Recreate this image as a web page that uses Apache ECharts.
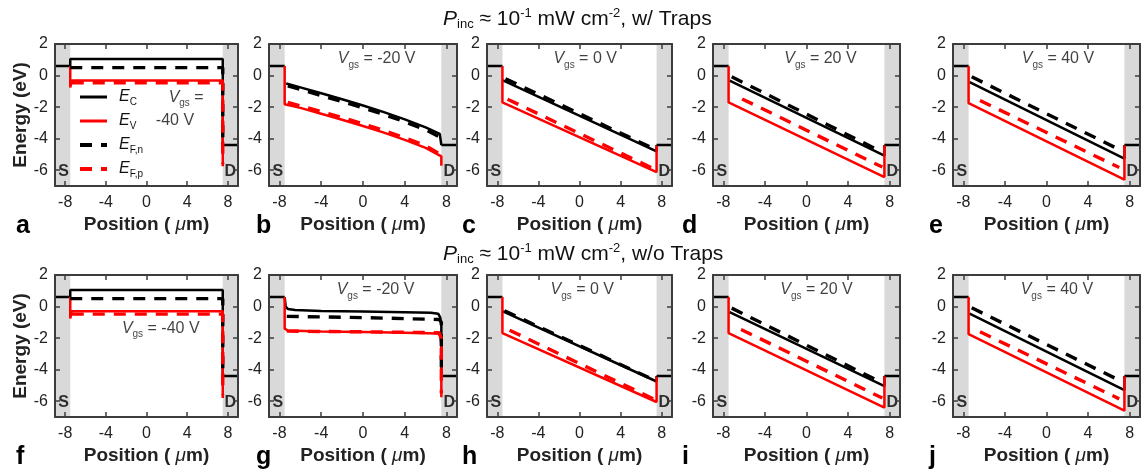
<!DOCTYPE html>
<html>
<head>
<meta charset="utf-8">
<script src="https://cdn.jsdelivr.net/npm/echarts@6/dist/echarts.min.js"></script>
<style>
  html, body { margin: 0; padding: 0; background: #ffffff; }
  #chart { width: 1143px; height: 475px; }
</style>
</head>
<body>
<div id="chart"></div>
<script>
// ---- axes -------------------------------------------------------------
const xRange = [-9, 9];
const yRange = [-7, 2];
const xTicks = [-8, -4, 0, 4, 8];
const yTicks = [-6, -4, -2, 0, 2];

// ---- contacts (µm / eV) ----------------------------------------------
const channelEdges = [-7.5, 7.5];
const sourceLevel = 0.6;
const drainLevel = -4.4;

// ---- panel captions ----------------------------------------------------
const panelLetters = ['a', 'b', 'c', 'd', 'e', 'f', 'g', 'h', 'i', 'j'];
const gateVoltages = ['-40', '-20', '0', '20', '40', '-40', '-20', '0', '20', '40'];
const rowTitles = ['w/ Traps', 'w/o Traps'];
const legendKeys = ['Ec', 'Ev', 'EFn', 'EFp'];
const legendSubs = ['C', 'V', 'F,n', 'F,p'];

// ---- band profiles, with traps ([position µm, energy eV]) -------------
const ecA  = [[-7.5, 0.6], [-7.5, 1.05], [7.5, 1.05], [7.5, -4.4]];
const evA  = [[-7.5, 0.6], [-7.5, -0.75], [-7.35, -0.32], [7.5, -0.32], [7.5, -5.75]];
const efnA = [[-7.5, 0.5], [7.5, 0.5], [7.5, -4.4]];
const efpA = [[-7.35, -0.46], [7.5, -0.46], [7.5, -5.6]];

const ecB  = [[-7.35, -0.5], [-6, -0.75], [-4, -1.12], [-2, -1.5], [0, -1.9], [2, -2.32], [4, -2.78], [6, -3.28], [7.35, -3.7], [7.5, -3.75], [7.5, -4.4]];
const evB  = [[-7.5, 0.6], [-7.5, -1.82], [-6, -2.05], [-4, -2.42], [-2, -2.8], [0, -3.2], [2, -3.62], [4, -4.08], [6, -4.58], [7.5, -5.12], [7.5, -5.72]];
const efnB = [[-7.2, -0.65], [-4, -1.27], [-2, -1.65], [0, -2.05], [2, -2.47], [4, -2.93], [6, -3.43], [7.2, -3.85]];
const efpB = [[-7.2, -1.7], [-4, -2.28], [-2, -2.66], [0, -3.06], [2, -3.48], [4, -3.94], [6, -4.44], [7.2, -4.92]];

const ecC  = [[-7.45, -0.3], [7.5, -4.8], [7.5, -4.4]];
const evC  = [[-7.5, 0.6], [-7.5, -1.7], [7.5, -6.12], [7.5, -4.45]];
const efnC = [[-7.2, -0.2], [7.3, -4.66]];
const efpC = [[-7.0, -1.5], [7.2, -5.9]];

const ecD  = [[-7.4, -0.32], [7.5, -5.08], [7.5, -4.4]];
const evD  = [[-7.5, 0.6], [-7.5, -1.7], [7.5, -6.43], [7.5, -4.42]];
const efnD = [[-7.2, -0.08], [7.2, -4.82]];
const efpD = [[-6.2, -1.48], [7.3, -5.8]];

const ecE  = [[-7.4, -0.42], [7.5, -5.27], [7.5, -4.4]];
const evE  = [[-7.5, 0.6], [-7.5, -1.75], [7.5, -6.6], [7.5, -4.42]];
const efnE = [[-7.2, -0.08], [7.1, -4.72]];
const efpE = [[-6.4, -1.58], [7.0, -5.83]];

// ---- band profiles, without traps ------------------------------------
const ecF  = [[-7.5, 0.6], [-7.5, 1.05], [7.5, 1.05], [7.5, -4.4]];
const evF  = [[-7.5, 0.6], [-7.5, -0.75], [-7.35, -0.3], [7.5, -0.3], [7.5, -5.8]];
const efnF = [[-7.5, 0.5], [7.5, 0.5], [7.5, -4.4]];
const efpF = [[-7.35, -0.48], [7.5, -0.48], [7.5, -5.6]];

const ecG  = [[-7.5, 0.6], [-7.4, 0.0], [-7.2, -0.15], [-6.5, -0.22], [-4, -0.28], [0, -0.32], [4, -0.36], [6.5, -0.4], [7.2, -0.45], [7.4, -0.7], [7.5, -1.2], [7.5, -4.4]];
const evG  = [[-7.5, 0.6], [-7.5, -1.4], [-7.2, -1.52], [-4, -1.58], [0, -1.62], [4, -1.66], [7.2, -1.7], [7.4, -1.9], [7.5, -2.4], [7.5, -5.75]];
const efnG = [[-7.3, -0.62], [0, -0.7], [7.3, -0.82], [7.5, -1.0], [7.5, -4.4]];
const efpG = [[-7.3, -1.56], [0, -1.6], [7.3, -1.66], [7.5, -2.0], [7.5, -5.5]];

const ecH  = [[-7.45, -0.3], [7.5, -4.75], [7.5, -4.4]];
const evH  = [[-7.5, 0.6], [-7.5, -1.68], [7.5, -6.05], [7.5, -4.45]];
const efnH = [[-7.3, -0.27], [7.3, -4.67]];
const efpH = [[-6.8, -1.5], [7.2, -5.85]];

const ecI  = [[-7.4, -0.35], [7.5, -5.05], [7.5, -4.4]];
const evI  = [[-7.5, 0.6], [-7.5, -1.68], [7.5, -6.4], [7.5, -4.42]];
const efnI = [[-7.2, -0.1], [7.2, -4.8]];
const efpI = [[-6.3, -1.45], [7.3, -5.8]];

const ecJ  = [[-7.4, -0.45], [7.5, -5.3], [7.5, -4.4]];
const evJ  = [[-7.5, 0.6], [-7.5, -1.75], [7.5, -6.6], [7.5, -4.42]];
const efnJ = [[-7.2, -0.08], [7.1, -4.7]];
const efpJ = [[-6.4, -1.6], [7.0, -5.85]];

const ecList  = [ecA, ecB, ecC, ecD, ecE, ecF, ecG, ecH, ecI, ecJ];
const evList  = [evA, evB, evC, evD, evE, evF, evG, evH, evI, evJ];
const efnList = [efnA, efnB, efnC, efnD, efnE, efnF, efnG, efnH, efnI, efnJ];
const efpList = [efpA, efpB, efpC, efpD, efpE, efpF, efpG, efpH, efpI, efpJ];

// ---- layout (pixels) ---------------------------------------------------
const colLeft  = [55, 269, 487, 713, 953];
const colWidth = [183, 188, 185, 187, 187];
const rowTop   = [44, 275];
const plotHeight = 142;
const letterX = [24, 264, 470, 690, 937];
const letterY = [228, 459];
const legendX = 80, legendTop = 97, legendStep = 24;

// gate-voltage caption anchor in data units, per panel
const vgsAnchor = [[3.9, -1.37], [1.3, 1.06], [0.55, 1.06], [1.34, 1.06], [1.1, 1.06],
                   [1.4, -1.37], [1.2, 1.05], [0.27, 1.05], [0.96, 1.05], [1.0, 1.05]];

const FONT = '"Liberation Sans", Arial, Helvetica, sans-serif';
const FRAME = '#3c3c3c';
const RED = '#ff0000';
const GRAY = '#d9d9d9';
const DASH = [12, 9];

const bandStyle = {
  Ec:  { color: '#000', width: 2.5, type: 'solid' },
  Ev:  { color: RED,    width: 2.5, type: 'solid' },
  EFn: { color: '#000', width: 3.4, type: DASH },
  EFp: { color: RED,    width: 3.4, type: DASH }
};

const grids = [], xAxes = [], yAxes = [], series = [], graphics = [];

for (let p = 0; p < 10; p++) {
  const row = Math.floor(p / 5), col = p % 5;
  grids.push({ left: colLeft[col], top: rowTop[row], width: colWidth[col], height: plotHeight, show: false });

  const baseX = {
    gridIndex: p, type: 'value', min: xRange[0], max: xRange[1], z: 10,
    axisLine: { show: true, onZero: false, lineStyle: { color: FRAME, width: 2 } },
    axisTick: { show: true, inside: true, length: 5, customValues: xTicks, lineStyle: { color: FRAME, width: 1.5 } },
    splitLine: { show: false }
  };
  xAxes.push(Object.assign({}, baseX, {
    position: 'bottom',
    axisLabel: { show: true, customValues: xTicks, fontSize: 16, fontFamily: FONT, color: '#222', margin: 9 },
    name: '{b|Position ( }{mu|\u03bc}{b|m)}',
    nameLocation: 'middle', nameGap: 29,
    nameTextStyle: { rich: {
      b:  { fontSize: 19, fontWeight: 'bold', fontFamily: FONT, color: '#222' },
      mu: { fontSize: 19, fontStyle: 'italic', fontFamily: FONT, color: '#222' }
    } }
  }));
  xAxes.push(Object.assign({}, baseX, { position: 'top', axisLabel: { show: false } }));

  const baseY = {
    gridIndex: p, type: 'value', min: yRange[0], max: yRange[1], z: 10,
    axisLine: { show: true, onZero: false, lineStyle: { color: FRAME, width: 2 } },
    axisTick: { show: true, inside: true, length: 5, customValues: yTicks, lineStyle: { color: FRAME, width: 1.5 } },
    splitLine: { show: false }
  };
  const leftY = Object.assign({}, baseY, {
    position: 'left',
    axisLabel: { show: true, customValues: yTicks, fontSize: 16, fontFamily: FONT, color: '#222', margin: 7 }
  });
  if (col === 0) {
    Object.assign(leftY, {
      name: 'Energy (eV)', nameLocation: 'middle', nameGap: 22,
      nameTextStyle: { fontSize: 19, fontWeight: 'bold', fontFamily: FONT, color: '#222' }
    });
  }
  yAxes.push(leftY);
  yAxes.push(Object.assign({}, baseY, { position: 'right', axisLabel: { show: false } }));

  const xi = 2 * p, yi = 2 * p;
  const lineBase = { type: 'line', xAxisIndex: xi, yAxisIndex: yi, symbol: 'none', showSymbol: false, silent: true, animation: false };

  // metal contacts: shaded regions plus their Fermi levels
  series.push(Object.assign({}, lineBase, {
    name: 'source', z: 1,
    data: [[xRange[0], sourceLevel], [channelEdges[0], sourceLevel]],
    lineStyle: { color: '#000', width: 2.5 },
    markArea: { silent: true, itemStyle: { color: GRAY }, data: [
      [{ coord: [xRange[0], yRange[0]] }, { coord: [channelEdges[0], yRange[1]] }],
      [{ coord: [channelEdges[1], yRange[0]] }, { coord: [xRange[1], yRange[1]] }]
    ] }
  }));
  series.push(Object.assign({}, lineBase, {
    name: 'drain', z: 2,
    data: [[channelEdges[1], drainLevel], [xRange[1], drainLevel]],
    lineStyle: { color: '#000', width: 2.5 }
  }));

  const bandData = [ecList[p], evList[p], efnList[p], efpList[p]];
  legendKeys.forEach((k, i) => {
    series.push(Object.assign({}, lineBase, { name: k, z: 3 + i, data: bandData[i], lineStyle: bandStyle[k] }));
  });

  // text annotations placed in data coordinates
  const notes = [
    { value: [-8.15, -6.1], label: { formatter: '{sd|S}' } },
    { value: [8.25, -6.1], label: { formatter: '{sd|D}' } }
  ];
  const va = vgsAnchor[p];
  if (p === 0) {
    notes.push({ value: va, label: { formatter: '{v|V}{s|gs}{t| =}' } });
    notes.push({ value: [2.8, -2.85], label: { formatter: '{t|' + gateVoltages[p] + ' V}' } });
  } else {
    notes.push({ value: va, label: { formatter: '{v|V}{s|gs}{t| = ' + gateVoltages[p] + ' V}' } });
  }
  series.push({
    type: 'scatter', xAxisIndex: xi, yAxisIndex: yi, z: 8, silent: true, animation: false,
    symbolSize: 1, itemStyle: { color: 'transparent' },
    data: notes,
    label: { show: true, position: 'inside', rich: {
      sd: { fontSize: 16, fontWeight: 'bold', fontFamily: FONT, color: '#000' },
      v:  { fontSize: 16, fontStyle: 'italic', fontFamily: FONT, color: '#111', lineHeight: 22 },
      s:  { fontSize: 10, fontFamily: FONT, color: '#111', lineHeight: 12, verticalAlign: 'bottom' },
      t:  { fontSize: 16, fontFamily: FONT, color: '#111', lineHeight: 22 }
    } }
  });

  graphics.push({
    type: 'text', left: letterX[col] - 8, top: letterY[row] - 14,
    style: { text: panelLetters[p], font: 'bold 25px ' + FONT, fill: '#000' }
  });
}

// key for the four band lines, drawn inside panel a
legendKeys.forEach((k, i) => {
  const y = legendTop + i * legendStep;
  const st = bandStyle[k];
  graphics.push({
    type: 'line', z: 20,
    shape: { x1: legendX, y1: y, x2: legendX + 27, y2: y },
    style: { stroke: st.color, lineWidth: st.width + 0.5, lineDash: Array.isArray(st.type) ? st.type : null }
  });
  graphics.push({
    type: 'text', z: 20, x: legendX + 39, y: y,
    style: {
      text: '{e|E}{s|' + legendSubs[i] + '}',
      textVerticalAlign: 'middle', verticalAlign: 'middle',
      rich: {
        e: { fontSize: 16, fontStyle: 'italic', fontFamily: FONT, fill: '#111', lineHeight: 20 },
        s: { fontSize: 10, fontFamily: FONT, fill: '#111', lineHeight: 10, verticalAlign: 'bottom' }
      }
    }
  });
});

// row headings
const titleRich = {
  p:   { fontSize: 21, fontStyle: 'italic', fontWeight: 'normal', fontFamily: FONT, color: '#111', lineHeight: 24 },
  sub: { fontSize: 13, fontWeight: 'normal', fontFamily: FONT, color: '#111', lineHeight: 12, verticalAlign: 'bottom' },
  sup: { fontSize: 13, fontWeight: 'normal', fontFamily: FONT, color: '#111', lineHeight: 12, verticalAlign: 'top' },
  n:   { fontSize: 21, fontWeight: 'normal', fontFamily: FONT, color: '#111', lineHeight: 24 }
};
const titles = rowTitles.map((tail, r) => ({
  text: '{p|P}{sub|inc}{n| \u2248 10}{sup|-1}{n| mW cm}{sup|-2}{n|, ' + tail + '}',
  left: 443, top: r === 0 ? 7 : 242,
  padding: 0,
  textStyle: { fontWeight: 'normal', rich: titleRich }
}));

const chart = echarts.init(document.getElementById('chart'), null, { renderer: 'canvas' });
chart.setOption({
  animation: false,
  backgroundColor: '#ffffff',
  title: titles,
  grid: grids,
  xAxis: xAxes,
  yAxis: yAxes,
  graphic: graphics,
  series: series
});
</script>
</body>
</html>
